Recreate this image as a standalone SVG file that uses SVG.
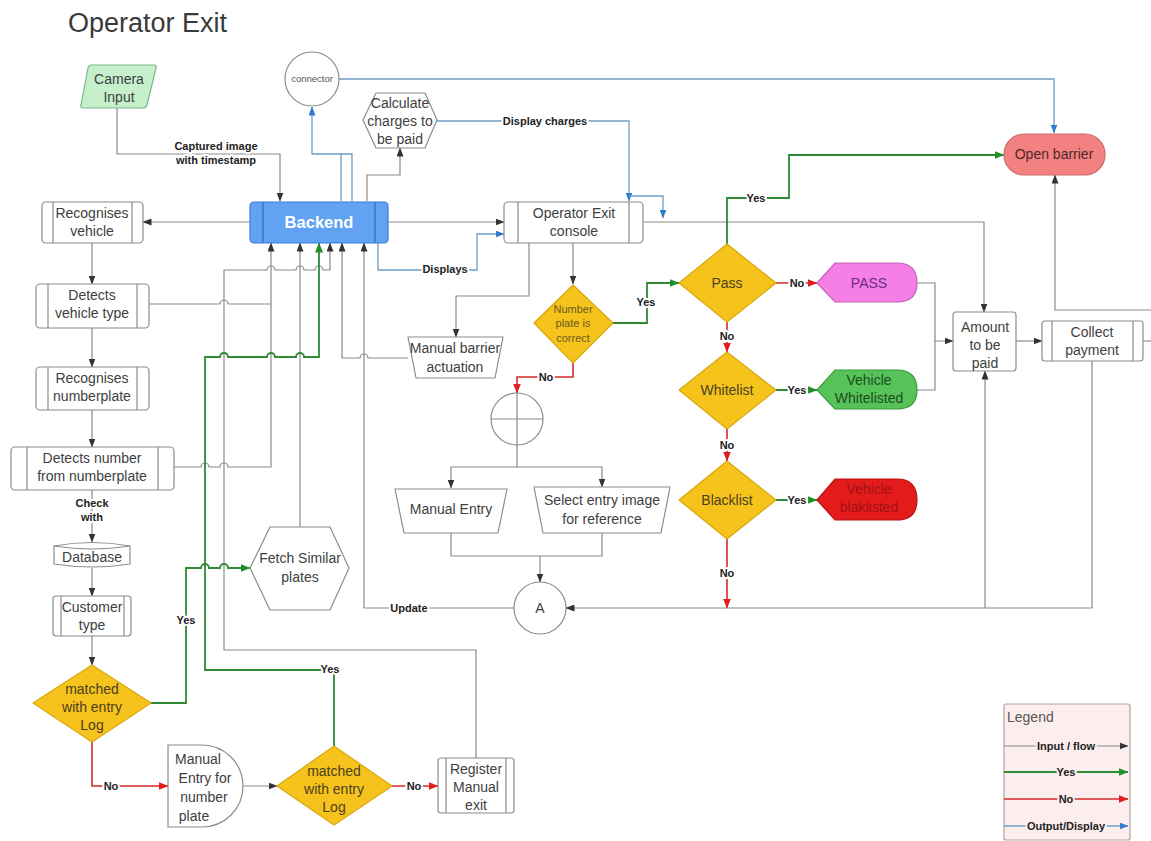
<svg xmlns="http://www.w3.org/2000/svg" width="1151" height="841" viewBox="0 0 1151 841">
  <style>
    text { font-family: "Liberation Sans", Arial, sans-serif; }
    .t { font-size: 14px; fill: #404040; text-anchor: middle; }
    .ts { font-size: 11px; fill: #6a5a1a; text-anchor: middle; }
    .dt { font-size: 14px; fill: #4a4020; text-anchor: middle; }
    .box { fill: #ffffff; stroke: #8c8c8c; stroke-width: 1.2; }
    .inner { stroke: #8c8c8c; stroke-width: 1.2; }
    .dia { fill: #f6c31c; stroke: #d8a80c; stroke-width: 1.2; }
    .lbl { font-size: 11px; font-weight: bold; fill: #222; text-anchor: middle; stroke: #ffffff; stroke-width: 4; paint-order: stroke; stroke-linejoin: round; }
    .lgl { font-size: 11px; font-weight: bold; fill: #222; text-anchor: middle; stroke: #fdeeee; stroke-width: 4; paint-order: stroke; stroke-linejoin: round; }
    .c { fill: none; stroke: #8a8a8a; stroke-width: 1.2; marker-end: url(#ah); }
    .cn { fill: none; stroke: #8a8a8a; stroke-width: 1.2; }
    .g { fill: none; stroke: #2e8a35; stroke-width: 1.8; marker-end: url(#ahG); }
    .gn { fill: none; stroke: #2e8a35; stroke-width: 1.8; }
    .r { fill: none; stroke: #d42a2a; stroke-width: 1.6; marker-end: url(#ahR); }
    .b { fill: none; stroke: #6f9cc8; stroke-width: 1.3; marker-end: url(#ahB); }
    .bn { fill: none; stroke: #6f9cc8; stroke-width: 1.3; }
  </style>
  <defs>
    <marker id="ah" viewBox="0 0 9 7" refX="8.5" refY="3.5" markerWidth="9" markerHeight="7" markerUnits="userSpaceOnUse" orient="auto">
      <path d="M0,0 L9,3.5 L0,7 z" fill="#333"/>
    </marker>
    <marker id="ahG" viewBox="0 0 10 8" refX="9.5" refY="4" markerWidth="10" markerHeight="8" markerUnits="userSpaceOnUse" orient="auto">
      <path d="M0,0 L10,4 L0,8 z" fill="#1f8f2a"/>
    </marker>
    <marker id="ahR" viewBox="0 0 10 8" refX="9.5" refY="4" markerWidth="10" markerHeight="8" markerUnits="userSpaceOnUse" orient="auto">
      <path d="M0,0 L10,4 L0,8 z" fill="#e01e1e"/>
    </marker>
    <marker id="ahB" viewBox="0 0 9 7" refX="8.5" refY="3.5" markerWidth="9" markerHeight="7" markerUnits="userSpaceOnUse" orient="auto">
      <path d="M0,0 L9,3.5 L0,7 z" fill="#2e7bd0"/>
    </marker>
  </defs>

  <rect width="1151" height="841" fill="#ffffff"/>

  <text x="68" y="32" font-size="27" fill="#3a3a3a">Operator Exit</text>

  <!-- connectors -->
  <g id="connectors">
    <!-- camera to backend -->
    <path class="c" d="M117,108 V154 H280 V201"/>
    <!-- backend to recognition -->
    <path class="c" d="M250,222 H143"/>
    <!-- left column chain -->
    <path class="c" d="M92,243 V284"/>
    <path class="c" d="M92,328 V367"/>
    <path class="c" d="M92,410 V447"/>
    <path class="c" d="M92,490 V542"/>
    <path class="c" d="M92,568 V596"/>
    <path class="c" d="M92,636 V665"/>
    <!-- feedback lines into backend -->
    <path class="cn" d="M149,304 H220 A4,4 0 0 1 228,304 H271"/>
    <path class="c" d="M174,467 H201 A4,4 0 0 1 209,467 H220 A4,4 0 0 1 228,467 H271 V243"/>
    <path class="c" d="M300,527 V243"/>
    <path class="c" d="M476,758 V650 H224 V270 H267 A4,4 0 0 1 275,270 H296 A4,4 0 0 1 304,270 H315 A4,4 0 0 1 323,270 H330 V243"/>
    <path class="c" d="M408,358 H368 A4,4 0 0 0 360,358 H342 V243"/>
    <path class="c" d="M514,608 H364 V243"/>
    <path class="g" d="M334,746 V670 H205 V357 H220 A4,4 0 0 1 228,357 H267 A4,4 0 0 1 275,357 H296 A4,4 0 0 1 304,357 H319 V243"/>
    <path class="g" d="M151,703 H186 V568 H201 A4,4 0 0 1 209,568 H220 A4,4 0 0 1 228,568 H250"/>
    <!-- manual entry branch -->
    <path class="r" d="M92,742 V786 H168"/>
    <path class="c" d="M243,786 H277"/>
    <path class="r" d="M392,786 H438"/>
    <!-- backend outputs -->
    <path class="c" d="M388,222 H504"/>
    <path class="c" d="M367,201 V175 H400 V148"/>
    <path class="b" d="M341,201 V154 H312 V107"/>
    <path class="bn" d="M352,201 V154 H341"/>
    <path class="b" d="M378,243 V270 H477 V234 H504"/>
    <path class="b" d="M437,121 H629 V201"/>
    <path class="b" d="M629,196 H663 V218"/>
    <path class="b" d="M338,79 H1054 V133"/>
    <!-- console outputs -->
    <path class="c" d="M643,222 H984 V312"/>
    <path class="c" d="M573,243 V284"/>
    <path class="c" d="M529,243 V296 H456 V337"/>
    <!-- number plate check -->
    <path class="g" d="M613,323 H647 V283 H679"/>
    <path class="r" d="M573,363 V377 H517 V393"/>
    <path class="c" d="M517,445 V467 H451 V488"/>
    <path class="c" d="M517,467 H602 V487"/>
    <path class="c" d="M451,533 V556 H540 V582"/>
    <path class="cn" d="M602,533 V556 H540"/>
    <!-- pass / whitelist / blacklist -->
    <path class="g" d="M727,244 V198 H789 V155 H1004"/>
    <path class="r" d="M776,283 H817"/>
    <path class="r" d="M727,322 V352"/>
    <path class="g" d="M776,390 H817"/>
    <path class="r" d="M727,429 V461"/>
    <path class="g" d="M776,500 H817"/>
    <path class="r" d="M727,539 V608"/>
    <!-- payment -->
    <path class="c" d="M917,283 H935 V341 H953"/>
    <path class="cn" d="M917,390 H935 V341"/>
    <path class="c" d="M1016,341 H1042"/>
    <path class="cn" d="M1143,341 H1151"/>
    <path class="c" d="M1151,310 H1055 V175"/>
    <path class="c" d="M1092,361 V608 H566"/>
    <path class="c" d="M985,608 V371"/>

    <!-- connector labels -->
    <text class="lbl" x="216" y="150">Captured image</text>
    <text class="lbl" x="216" y="164">with timestamp</text>
    <text class="lbl" x="545" y="125">Display charges</text>
    <text class="lbl" x="445" y="273">Displays</text>
    <text class="lbl" x="92" y="507">Check</text>
    <text class="lbl" x="92" y="521">with</text>
    <text class="lbl" x="186" y="624">Yes</text>
    <text class="lbl" x="330" y="673">Yes</text>
    <text class="lbl" x="111" y="790">No</text>
    <text class="lbl" x="414" y="790">No</text>
    <text class="lbl" x="409" y="612">Update</text>
    <text class="lbl" x="646" y="306">Yes</text>
    <text class="lbl" x="546" y="381">No</text>
    <text class="lbl" x="756" y="202">Yes</text>
    <text class="lbl" x="797" y="287">No</text>
    <text class="lbl" x="727" y="340">No</text>
    <text class="lbl" x="797" y="394">Yes</text>
    <text class="lbl" x="727" y="449">No</text>
    <text class="lbl" x="797" y="504">Yes</text>
    <text class="lbl" x="727" y="577">No</text>
  </g>

  <!-- nodes -->
  <g id="camera-input">
    <path d="M91,65 H154 Q157,65 156,68 L147,105 Q146,108 143,108 H83 Q80,108 81,105 L88,68 Q89,65 91,65 Z" fill="#c6f0cc" stroke="#7ab886" stroke-width="1.2"/>
    <text class="t" x="119" y="84" fill="#3f4f40">Camera</text>
    <text class="t" x="119" y="102">Input</text>
  </g>

  <g id="connector">
    <circle cx="312" cy="79" r="27" class="box"/>
    <text x="312" y="82" font-size="9.5" fill="#555" text-anchor="middle">connector</text>
  </g>

  <g id="calculate-charges">
    <polygon points="363,120 376,93 425,93 437,120 425,148 376,148" class="box" stroke-linejoin="round"/>
    <text class="t" x="400" y="108">Calculate</text>
    <text class="t" x="400" y="126">charges to</text>
    <text class="t" x="400" y="144">be paid</text>
  </g>

  <g id="backend">
    <rect x="250" y="202" width="138" height="41" rx="4" fill="#62a2f2" stroke="#3b7dd8" stroke-width="1.2"/>
    <line x1="263" y1="202" x2="263" y2="243" stroke="#2f5f9f" stroke-width="1"/>
    <line x1="375" y1="202" x2="375" y2="243" stroke="#2f5f9f" stroke-width="1"/>
    <text x="319" y="228" font-size="16.5" font-weight="bold" fill="#ffffff" text-anchor="middle">Backend</text>
  </g>

  <g id="recognises-vehicle">
    <rect x="42" y="202" width="101" height="41" rx="4" class="box"/>
    <line x1="53" y1="202" x2="53" y2="243" class="inner"/>
    <line x1="132" y1="202" x2="132" y2="243" class="inner"/>
    <text class="t" x="92" y="218">Recognises</text>
    <text class="t" x="92" y="236">vehicle</text>
  </g>

  <g id="detects-vehicle-type">
    <rect x="36" y="284" width="113" height="44" rx="4" class="box"/>
    <line x1="48" y1="284" x2="48" y2="328" class="inner"/>
    <line x1="137" y1="284" x2="137" y2="328" class="inner"/>
    <text class="t" x="92" y="300">Detects</text>
    <text class="t" x="92" y="318">vehicle type</text>
  </g>

  <g id="recognises-numberplate">
    <rect x="36" y="367" width="113" height="43" rx="4" class="box"/>
    <line x1="48" y1="367" x2="48" y2="410" class="inner"/>
    <line x1="137" y1="367" x2="137" y2="410" class="inner"/>
    <text class="t" x="92" y="383">Recognises</text>
    <text class="t" x="92" y="401">numberplate</text>
  </g>

  <g id="detects-number">
    <rect x="11" y="447" width="163" height="43" rx="4" class="box"/>
    <line x1="27" y1="447" x2="27" y2="490" class="inner"/>
    <line x1="158" y1="447" x2="158" y2="490" class="inner"/>
    <text class="t" x="92" y="463">Detects number</text>
    <text class="t" x="92" y="481">from numberplate</text>
  </g>

  <g id="database">
    <path d="M54,546 Q92,539 130,546 V564 Q92,570 54,564 Z" class="box"/>
    <path d="M54,546 Q92,552 130,546" fill="none" stroke="#8c8c8c" stroke-width="1"/>
    <text class="t" x="92" y="562">Database</text>
  </g>

  <g id="customer-type">
    <rect x="53" y="596" width="78" height="40" rx="3" class="box"/>
    <line x1="61" y1="596" x2="61" y2="636" class="inner"/>
    <line x1="124" y1="596" x2="124" y2="636" class="inner"/>
    <text class="t" x="92" y="612">Customer</text>
    <text class="t" x="92" y="630">type</text>
  </g>

  <g id="matched-entry-log-1">
    <polygon points="92,665 151,703 92,742 33,703" class="dia" stroke-linejoin="round"/>
    <text class="dt" x="92" y="694">matched</text>
    <text class="dt" x="92" y="712">with entry</text>
    <text class="dt" x="92" y="730">Log</text>
  </g>

  <g id="manual-entry-number-plate">
    <path d="M168,745 H202 A41,41 0 0 1 202,827 H168 Z" class="box"/>
    <text class="t" x="198" y="764">Manual</text>
    <text class="t" x="205" y="783">Entry for</text>
    <text class="t" x="204" y="802">number</text>
    <text class="t" x="194" y="821">plate</text>
  </g>

  <g id="matched-entry-log-2">
    <polygon points="334,746 392,786 334,825 277,786" class="dia" stroke-linejoin="round"/>
    <text class="dt" x="334" y="776">matched</text>
    <text class="dt" x="334" y="794">with entry</text>
    <text class="dt" x="334" y="812">Log</text>
  </g>

  <g id="register-manual-exit">
    <rect x="438" y="758" width="76" height="55" rx="3" class="box"/>
    <line x1="446" y1="758" x2="446" y2="813" class="inner"/>
    <line x1="506" y1="758" x2="506" y2="813" class="inner"/>
    <text class="t" x="476" y="774">Register</text>
    <text class="t" x="476" y="792">Manual</text>
    <text class="t" x="476" y="810">exit</text>
  </g>

  <g id="fetch-similar-plates">
    <polygon points="250,568 270,527 330,527 349,568 330,610 270,610" class="box" stroke-linejoin="round"/>
    <text class="t" x="300" y="563">Fetch Similar</text>
    <text class="t" x="300" y="582">plates</text>
  </g>

  <g id="operator-exit-console">
    <rect x="504" y="202" width="139" height="41" rx="4" class="box"/>
    <line x1="518" y1="202" x2="518" y2="243" class="inner"/>
    <line x1="629" y1="202" x2="629" y2="243" class="inner"/>
    <text class="t" x="574" y="218">Operator Exit</text>
    <text class="t" x="574" y="236">console</text>
  </g>

  <g id="manual-barrier-actuation">
    <path d="M408,337 H503 L495,378 H416 Z" class="box" stroke-linejoin="round"/>
    <text class="t" x="455" y="353">Manual barrier</text>
    <text class="t" x="455" y="372">actuation</text>
  </g>

  <g id="number-plate-correct">
    <polygon points="573,285 613,323 573,363 534,323" class="dia" stroke-linejoin="round"/>
    <text class="ts" x="573" y="313">Number</text>
    <text class="ts" x="573" y="327">plate is</text>
    <text class="ts" x="573" y="342">correct</text>
  </g>

  <g id="summing-junction">
    <circle cx="517" cy="419" r="26" class="box"/>
    <line x1="517" y1="393" x2="517" y2="445" class="inner"/>
    <line x1="491" y1="419" x2="543" y2="419" class="inner"/>
  </g>

  <g id="manual-entry">
    <path d="M395,489 H507 L498,533 H404 Z" class="box" stroke-linejoin="round"/>
    <text class="t" x="451" y="514">Manual Entry</text>
  </g>

  <g id="select-entry-image">
    <path d="M534,487 H670 L661,533 H543 Z" class="box" stroke-linejoin="round"/>
    <text class="t" x="602" y="505">Select entry image</text>
    <text class="t" x="602" y="524">for reference</text>
  </g>

  <g id="connector-a">
    <circle cx="540" cy="608" r="26" class="box"/>
    <text class="t" x="540" y="613">A</text>
  </g>

  <g id="pass-check">
    <polygon points="727,244 776,283 727,322 679,283" class="dia" stroke-linejoin="round"/>
    <text class="dt" x="727" y="288">Pass</text>
  </g>

  <g id="whitelist-check">
    <polygon points="727,352 776,390 727,429 679,390" class="dia" stroke-linejoin="round"/>
    <text class="dt" x="727" y="395">Whitelist</text>
  </g>

  <g id="blacklist-check">
    <polygon points="727,461 776,500 727,539 679,500" class="dia" stroke-linejoin="round"/>
    <text class="dt" x="727" y="505">Blacklist</text>
  </g>

  <g id="pass-display">
    <path d="M817,283 L835,263 H897 Q917,263 917,283 Q917,302 897,302 H835 Z" fill="#f57fe4" stroke="#c563b8" stroke-width="1.2"/>
    <text class="t" x="869" y="288" fill="#6a2c8a" style="fill:#6a2c8a">PASS</text>
  </g>

  <g id="vehicle-whitelisted">
    <path d="M817,390 L835,370 H897 Q917,370 917,390 Q917,409 897,409 H835 Z" fill="#56c257" stroke="#3a9a3c" stroke-width="1.2"/>
    <text class="t" x="869" y="385" style="fill:#1f4d1f">Vehicle</text>
    <text class="t" x="869" y="403" style="fill:#1f4d1f">Whitelisted</text>
  </g>

  <g id="vehicle-blacklisted">
    <path d="M817,500 L835,479 H897 Q917,479 917,500 Q917,520 897,520 H835 Z" fill="#e31b1b" stroke="#b81414" stroke-width="1.2"/>
    <text class="t" x="869" y="494" style="fill:#a01414">Vehicle</text>
    <text class="t" x="869" y="512" style="fill:#a01414">blaklisted</text>
  </g>

  <g id="open-barrier">
    <rect x="1004" y="134" width="101" height="41" rx="20" fill="#f48181" stroke="#c96a6a" stroke-width="1.2"/>
    <text class="t" x="1054" y="159" style="fill:#4a2a2a">Open barrier</text>
  </g>

  <g id="amount-to-be-paid">
    <rect x="953" y="312" width="63" height="59" rx="3" class="box"/>
    <text class="t" x="985" y="332">Amount</text>
    <text class="t" x="985" y="350">to be</text>
    <text class="t" x="985" y="368">paid</text>
  </g>

  <g id="collect-payment">
    <rect x="1042" y="321" width="101" height="40" rx="3" class="box"/>
    <line x1="1052" y1="321" x2="1052" y2="361" class="inner"/>
    <line x1="1133" y1="321" x2="1133" y2="361" class="inner"/>
    <text class="t" x="1092" y="337">Collect</text>
    <text class="t" x="1092" y="355">payment</text>
  </g>

  <g id="legend">
    <rect x="1004" y="704" width="126" height="136" rx="2" fill="#fdeeee" stroke="#b0a4a4" stroke-width="1.2"/>
    <text x="1007" y="722" font-size="14" fill="#555">Legend</text>
    <path class="c" d="M1004,746 H1128"/>
    <text class="lgl" x="1066" y="750">Input / flow</text>
    <path class="g" d="M1004,772 H1128"/>
    <text class="lgl" x="1066" y="776">Yes</text>
    <path class="r" d="M1004,799 H1128"/>
    <text class="lgl" x="1066" y="803">No</text>
    <path class="b" d="M1004,826 H1128"/>
    <text class="lgl" x="1066" y="830">Output/Display</text>
  </g>
</svg>
